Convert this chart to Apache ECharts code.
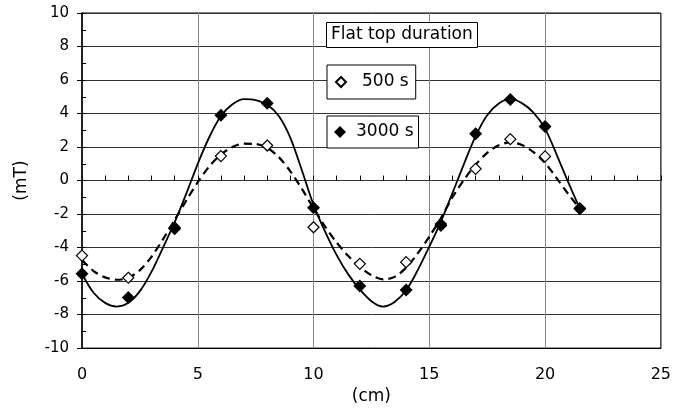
<!DOCTYPE html>
<html>
<head>
<meta charset="utf-8">
<script src="https://cdn.jsdelivr.net/npm/echarts@6/dist/echarts.min.js"></script>
<style>
html,body{margin:0;padding:0;background:#fff;}
#chart{width:674px;height:410px;}
</style>
</head>
<body>
<div id="chart"></div>
<script>
// Measured positions (cm)
const measX = [0, 2, 4, 6, 8, 10, 12, 14, 15.5, 17, 18.5, 20, 21.5];
// Measured field (mT)
const val500 = [-4.48, -5.8, -2.8, 1.46, 2.09, -2.79, -4.97, -4.87, -2.6, 0.7, 2.47, 1.44, -1.66];
const val3000 = [-5.56, -6.98, -2.88, 3.9, 4.62, -1.62, -6.3, -6.53, -2.69, 2.8, 4.83, 3.22, -1.68];

// Fitted curves
const curveX = [0, 0.5, 1, 1.5, 2, 2.5, 3, 3.5, 4, 4.5, 5, 5.5, 6, 6.5, 7, 7.5, 8, 8.5, 9, 9.5, 10, 10.5, 11, 11.5, 12, 12.5, 13, 13.5, 14, 14.5, 15, 15.5, 16, 16.5, 17, 17.5, 18, 18.5, 19, 19.5, 20, 20.5, 21, 21.5];
const curve3000 = [-5.56, -6.7, -7.3, -7.52, -7.3, -6.6, -5.45, -4.0, -2.5, -0.8, 1.0, 2.6, 3.85, 4.55, 4.86, 4.8, 4.52, 3.85, 2.55, 0.6, -1.45, -3.05, -4.45, -5.6, -6.5, -7.2, -7.52, -7.25, -6.55, -5.35, -3.95, -2.45, -0.75, 1.0, 2.65, 3.9, 4.6, 4.87, 4.62, 4.05, 3.1, 1.55, -0.1, -1.68];
const curve500 = [-4.75, -5.4, -5.78, -5.92, -5.8, -5.35, -4.55, -3.5, -2.35, -1.2, -0.1, 0.85, 1.55, 2.0, 2.2, 2.18, 1.95, 1.4, 0.55, -0.5, -1.65, -2.75, -3.7, -4.5, -5.15, -5.65, -5.9, -5.75, -5.2, -4.35, -3.35, -2.25, -1.0, 0.05, 0.95, 1.65, 2.1, 2.28, 2.12, 1.7, 1.05, 0.15, -0.8, -1.68];

const xTicks = [0, 5, 10, 15, 20, 25];
const yTicks = [-10, -8, -6, -4, -2, 0, 2, 4, 6, 8, 10];
const legendTitle = 'Flat top duration';
const name500 = '500 s';
const name3000 = '3000 s';
const xName = '(cm)';
const yName = '(mT)';

const pairs = (xs, ys) => xs.map((x, i) => [x, ys[i]]);
const FONT = 'DejaVu Sans';

const chart = echarts.init(document.getElementById('chart'), null, {renderer: 'canvas'});
chart.setOption({
  animation: false,
  backgroundColor: '#fff',
  textStyle: {fontFamily: FONT, color: '#000'},
  grid: {left: 82, right: 10, top: 13, bottom: 55, show: true, borderColor: '#000', borderWidth: 1, backgroundColor: 'transparent'},
  title: {
    text: legendTitle,
    left: 326, top: 22,
    padding: [4, 5, 4, 5],
    backgroundColor: '#fff', borderColor: '#000', borderWidth: 1,
    textStyle: {fontFamily: FONT, fontSize: 17, fontWeight: 'normal', color: '#000', lineHeight: 18},
    z: 10
  },
  legend: [
    {
      data: [name500], left: 327, top: 65,
      padding: [8, 7, 8, 8], itemWidth: 10, itemHeight: 10,
      backgroundColor: '#fff', borderColor: '#000', borderWidth: 1,
      textStyle: {fontFamily: FONT, fontSize: 17, color: '#000', padding: [0, 0, 0, 11], lineHeight: 18},
      selectedMode: false, z: 10
    },
    {
      data: [name3000], left: 327, top: 116,
      padding: [7, 5, 7, 7], itemWidth: 12, itemHeight: 12,
      backgroundColor: '#fff', borderColor: '#000', borderWidth: 1,
      textStyle: {fontFamily: FONT, fontSize: 17, color: '#000', padding: [0, 0, 0, 5], lineHeight: 18},
      selectedMode: false, z: 10
    }
  ],
  xAxis: [
    {
      type: 'value', min: xTicks[0], max: xTicks[xTicks.length - 1], interval: 5,
      position: 'bottom',
      name: xName, nameLocation: 'middle', nameGap: 30,
      nameTextStyle: {fontFamily: FONT, fontSize: 17, color: '#000'},
      axisLine: {onZero: false, show: true, lineStyle: {color: '#000', width: 1}},
      axisTick: {show: false},
      axisLabel: {margin: 19, fontFamily: FONT, fontSize: 16, color: '#000'},
      splitLine: {show: true, lineStyle: {color: '#8a8a8a', width: 1}}
    },
    {
      type: 'value', min: 0, max: 25, interval: 1,
      position: 'bottom',
      axisLine: {onZero: true, show: false},
      axisTick: {show: true, inside: true, length: 5, lineStyle: {color: '#000'}},
      axisLabel: {show: false},
      splitLine: {show: false}
    }
  ],
  yAxis: [
    {
      type: 'value', min: yTicks[0], max: yTicks[yTicks.length - 1], interval: 2,
      position: 'left',
      name: yName, nameLocation: 'middle', nameGap: 52, nameRotate: 90,
      nameTextStyle: {fontFamily: FONT, fontSize: 17, color: '#000'},
      axisLine: {show: true, lineStyle: {color: '#000', width: 1.5}},
      axisTick: {show: true, length: 5, lineStyle: {color: '#000'}},
      axisLabel: {margin: 13, fontFamily: FONT, fontSize: 15, color: '#000'},
      splitLine: {show: true, lineStyle: {color: '#333', width: 1}}
    },
    {
      type: 'value', min: -10, max: 10, interval: 1,
      position: 'left',
      axisLine: {show: false},
      axisTick: {show: true, inside: true, length: 4, lineStyle: {color: '#000'}},
      axisLabel: {show: false},
      splitLine: {show: false}
    }
  ],
  series: [
    {
      name: 'fit 500', type: 'line', data: pairs(curveX, curve500), smooth: 0.3,
      symbol: 'none', lineStyle: {color: '#000', width: 2.2, type: [8, 5]}, z: 2, silent: true
    },
    {
      name: 'fit 3000', type: 'line', data: pairs(curveX, curve3000), smooth: 0.3,
      symbol: 'none', lineStyle: {color: '#000', width: 1.8}, z: 2, silent: true
    },
    {
      name: name500, type: 'scatter', data: pairs(measX, val500), symbol: 'diamond', symbolSize: 11,
      itemStyle: {color: '#fff', borderColor: '#000', borderWidth: 1.2, opacity: 1}, z: 3
    },
    {
      name: name3000, type: 'scatter', data: pairs(measX, val3000), symbol: 'diamond', symbolSize: 13,
      itemStyle: {color: '#000', borderColor: '#000', borderWidth: 0, opacity: 1}, z: 4
    }
  ]
});
</script>
</body>
</html>
